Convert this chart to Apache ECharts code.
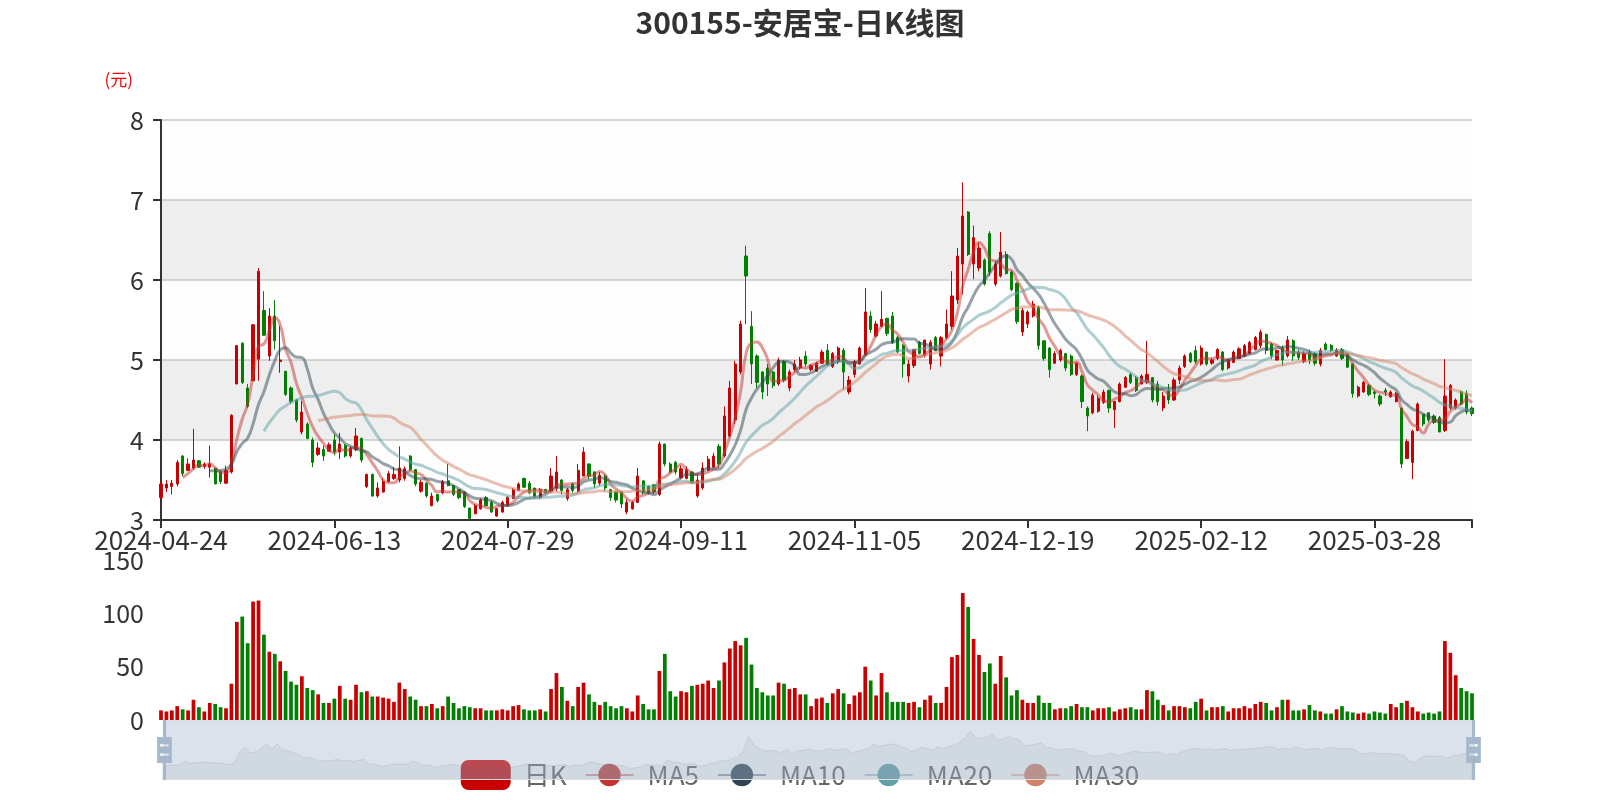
<!DOCTYPE html>
<html>
<head>
<meta charset="utf-8">
<script src="https://cdn.jsdelivr.net/npm/echarts@6/dist/echarts.min.js"></script>
<style>html,body{margin:0;padding:0;background:#fff;}#main{width:1600px;height:800px;}</style>
</head>
<body>
<div id="main"></div>
<script>
// ---------- DATA ----------
const chartTitle = '300155-安居宝-日K线图';
const startDate = '2024-04-24';
const tradingDayCount = 243;
const holidays = ['2024-05-01','2024-05-02','2024-05-03','2024-06-10','2024-09-16','2024-09-17',
  '2024-10-01','2024-10-02','2024-10-03','2024-10-04','2024-10-07','2025-01-01',
  '2025-01-28','2025-01-29','2025-01-30','2025-01-31','2025-02-03','2025-02-04','2025-04-04'];
const labelEvery = 32;

// [open, close, low, high]
const candles = [
[3.28,3.45,3.26,3.47],[3.40,3.45,3.35,3.50],[3.42,3.46,3.32,3.50],[3.45,3.72,3.42,3.75],[3.80,3.58,3.55,3.81],
[3.62,3.70,3.61,3.77],[3.65,3.75,3.63,4.14],[3.74,3.66,3.65,3.75],[3.67,3.70,3.64,3.72],[3.66,3.70,3.53,3.93],
[3.65,3.45,3.45,3.65],[3.60,3.48,3.45,3.62],[3.46,3.62,3.45,3.68],[3.60,4.31,3.58,4.32],[4.70,5.18,4.70,5.18],
[5.21,4.72,4.70,5.22],[4.65,4.42,4.40,4.70],[4.74,5.44,4.74,5.45],[5.01,6.11,4.74,6.15],[5.62,5.31,5.30,5.86],
[5.05,5.55,4.99,5.65],[5.55,5.24,5.13,5.75],[4.98,5.00,4.84,5.43],[4.86,4.57,4.55,4.86],[4.65,4.48,4.45,4.67],
[4.50,4.25,4.22,4.51],[4.10,4.35,4.07,4.49],[4.20,4.02,4.01,4.22],[4.00,3.72,3.66,4.03],[3.82,3.90,3.80,3.97],
[3.88,3.80,3.74,3.93],[3.86,3.94,3.86,3.97],[4.00,3.85,3.81,4.07],[3.85,3.95,3.76,4.09],[3.93,3.80,3.78,3.95],
[3.80,3.90,3.78,3.92],[3.88,4.05,3.86,4.15],[4.02,3.75,3.72,4.03],[3.42,3.57,3.40,3.58],[3.57,3.30,3.29,3.58],
[3.30,3.40,3.28,3.47],[3.35,3.48,3.34,3.52],[3.48,3.58,3.47,3.61],[3.52,3.57,3.50,3.66],[3.50,3.65,3.47,3.92],
[3.52,3.64,3.49,3.67],[3.80,3.63,3.61,3.81],[3.63,3.45,3.42,3.63],[3.36,3.47,3.34,3.50],[3.46,3.30,3.28,3.47],
[3.18,3.30,3.17,3.34],[3.32,3.24,3.22,3.32],[3.34,3.48,3.32,3.50],[3.49,3.43,3.42,3.70],[3.43,3.32,3.30,3.43],
[3.38,3.28,3.26,3.38],[3.35,3.17,3.15,3.36],[3.15,3.02,3.01,3.15],[3.08,3.18,3.07,3.20],[3.14,3.25,3.13,3.27],
[3.28,3.18,3.17,3.30],[3.22,3.10,3.09,3.24],[3.05,3.14,3.04,3.15],[3.10,3.22,3.09,3.24],[3.18,3.28,3.17,3.30],
[3.27,3.38,3.26,3.40],[3.37,3.45,3.36,3.47],[3.52,3.41,3.40,3.53],[3.46,3.34,3.32,3.49],[3.40,3.30,3.28,3.40],
[3.28,3.38,3.26,3.40],[3.38,3.34,3.33,3.39],[3.36,3.55,3.34,3.65],[3.40,3.60,3.36,3.80],[3.50,3.37,3.32,3.51],
[3.27,3.38,3.24,3.40],[3.45,3.37,3.34,3.47],[3.36,3.62,3.34,3.70],[3.55,3.85,3.55,3.91],[3.70,3.55,3.51,3.71],
[3.60,3.45,3.40,3.61],[3.46,3.56,3.43,3.60],[3.55,3.40,3.36,3.57],[3.38,3.28,3.24,3.39],[3.35,3.25,3.22,3.36],
[3.35,3.20,3.15,3.36],[3.10,3.22,3.07,3.26],[3.14,3.22,3.13,3.24],[3.22,3.55,3.22,3.65],[3.49,3.35,3.32,3.49],
[3.42,3.34,3.32,3.43],[3.44,3.35,3.32,3.45],[3.32,3.95,3.30,3.98],[3.95,3.70,3.67,3.95],[3.70,3.60,3.59,3.72],
[3.72,3.60,3.57,3.74],[3.53,3.64,3.51,3.68],[3.52,3.63,3.51,3.67],[3.60,3.47,3.45,3.61],[3.30,3.50,3.28,3.57],
[3.40,3.65,3.38,3.72],[3.62,3.76,3.61,3.80],[3.66,3.80,3.65,3.84],[3.92,3.70,3.65,3.95],[3.80,4.30,3.78,4.42],
[4.05,4.65,4.03,4.74],[4.25,4.95,4.20,4.99],[4.85,5.45,4.82,5.49],[6.30,6.05,5.45,6.43],[5.42,4.95,4.70,5.61],
[5.05,4.72,4.65,5.07],[4.85,4.60,4.51,4.86],[4.90,4.70,4.55,4.95],[4.85,4.68,4.65,4.86],[4.70,5.00,4.68,5.03],
[4.98,4.75,4.72,5.00],[4.65,4.85,4.61,4.88],[4.88,4.95,4.85,5.00],[4.90,5.00,4.88,5.04],[5.05,4.95,4.92,5.11],
[4.88,4.93,4.86,4.95],[4.86,4.96,4.85,4.98],[4.96,5.10,4.95,5.13],[5.12,4.95,4.93,5.20],[4.92,5.08,4.90,5.10],
[4.98,5.15,4.95,5.17],[5.12,4.85,4.63,5.15],[4.60,4.75,4.57,4.80],[4.82,4.98,4.78,5.00],[4.95,5.15,4.94,5.17],
[5.07,5.60,5.05,5.90],[5.55,5.38,5.34,5.61],[5.30,5.45,5.28,5.49],[5.42,5.51,5.41,5.86],[5.52,5.33,5.30,5.53],
[5.55,5.22,5.20,5.60],[5.28,5.10,5.09,5.30],[5.18,4.95,4.78,5.20],[4.80,4.95,4.72,5.00],[4.93,5.13,4.90,5.13],
[5.22,5.08,5.07,5.24],[5.06,5.25,5.03,5.25],[4.95,5.22,4.88,5.25],[5.28,5.12,5.11,5.30],[5.05,5.28,4.92,5.30],
[5.28,5.45,5.26,5.63],[5.42,5.80,5.38,6.11],[5.75,6.30,5.70,6.40],[6.20,6.80,5.82,7.22],[6.85,6.32,6.30,6.86],
[6.20,6.53,6.01,6.68],[6.15,6.40,6.11,6.47],[6.25,5.95,5.93,6.27],[6.58,6.10,6.05,6.61],[5.95,6.20,5.92,6.24],
[6.05,6.35,6.03,6.60],[6.32,6.08,6.07,6.36],[6.10,5.88,5.86,6.12],[5.96,5.48,5.45,5.97],[5.35,5.62,5.30,5.65],
[5.45,5.60,5.40,5.62],[5.55,5.70,5.53,5.74],[5.66,5.18,5.13,5.68],[5.24,5.02,4.99,5.25],[5.15,4.88,4.78,5.16],
[4.96,5.08,4.95,5.11],[5.00,5.12,4.98,5.14],[5.08,4.90,4.86,5.08],[5.05,4.82,4.80,5.07],[4.82,4.96,4.80,4.97],
[4.80,4.48,4.40,4.82],[4.40,4.30,4.11,4.42],[4.34,4.56,4.32,4.59],[4.36,4.52,4.34,4.55],[4.47,4.60,4.45,4.63],
[4.62,4.40,4.34,4.63],[4.38,4.48,4.15,4.49],[4.48,4.70,4.47,4.72],[4.66,4.78,4.65,4.80],[4.82,4.72,4.70,4.84],
[4.78,4.62,4.60,4.80],[4.70,4.80,4.70,4.82],[4.72,4.82,4.70,5.24],[4.78,4.50,4.47,4.78],[4.70,4.48,4.43,4.74],
[4.40,4.55,4.36,4.60],[4.62,4.50,4.45,4.70],[4.50,4.75,4.49,4.78],[4.75,4.90,4.70,4.93],[4.92,5.05,4.90,5.07],
[5.08,4.98,4.96,5.10],[5.12,4.98,4.95,5.18],[4.95,5.15,4.93,5.18],[5.10,4.95,4.93,5.10],[4.96,5.00,4.94,5.03],
[5.02,5.13,5.00,5.15],[5.10,4.88,4.86,5.11],[4.90,5.00,4.88,5.02],[4.97,5.10,4.96,5.12],[5.02,5.14,5.01,5.16],
[5.05,5.18,5.04,5.20],[5.08,5.22,5.07,5.24],[5.13,5.28,5.12,5.30],[5.18,5.35,5.15,5.38],[5.32,5.12,5.07,5.33],
[5.20,5.05,5.01,5.22],[5.00,5.12,4.99,5.13],[5.15,5.00,4.93,5.18],[5.05,5.25,5.03,5.30],[5.24,5.05,4.99,5.26],
[5.10,5.03,5.00,5.13],[4.98,5.08,4.96,5.11],[5.10,5.00,4.95,5.13],[5.08,4.96,4.93,5.10],[4.95,5.12,4.92,5.15],
[5.20,5.13,5.12,5.22],[5.18,5.12,5.10,5.20],[5.05,5.12,5.04,5.15],[5.13,5.02,5.00,5.15],[5.08,4.91,4.90,5.09],
[4.95,4.58,4.53,4.96],[4.55,4.66,4.53,4.68],[4.60,4.72,4.59,4.74],[4.68,4.57,4.55,4.70],[4.60,4.58,4.52,4.62],
[4.55,4.45,4.42,4.57],[4.62,4.60,4.55,4.65],[4.54,4.60,4.53,4.62],[4.48,4.58,4.47,4.60],[4.40,3.70,3.65,4.40],
[3.77,3.98,3.76,4.01],[3.72,4.11,3.51,4.13],[4.12,4.45,4.11,4.47],[4.32,4.20,4.17,4.32],[4.34,4.25,4.22,4.35],
[4.30,4.22,4.20,4.32],[4.28,4.10,4.10,4.30],[4.12,4.55,4.10,5.01],[4.40,4.68,4.38,4.70],[4.40,4.50,4.38,4.52],
[4.60,4.45,4.43,4.62],[4.58,4.35,4.32,4.62],[4.40,4.33,4.30,4.42]
];

const volumes = [
9,8,9,13,10,9,19,12,8,16,15,12,11,34,92,97,72,111,112,80,
64,62,55,46,36,33,41,30,28,24,16,16,20,32,20,19,33,26,27,22,
22,21,20,17,35,29,22,19,13,13,15,11,13,22,16,11,13,12,11,11,
9,9,9,10,9,13,14,10,9,9,10,8,29,44,31,18,13,31,35,24,
17,14,17,13,11,13,11,8,23,15,10,10,46,62,27,22,27,26,32,33,
34,37,30,37,54,67,74,70,77,52,30,26,23,23,35,34,29,30,24,24,
13,20,21,16,25,29,25,15,23,26,50,37,23,44,26,17,17,17,16,17,
12,19,23,16,16,31,59,61,119,106,76,61,45,53,34,60,40,23,28,19,
16,16,23,16,16,10,11,11,13,15,12,12,9,11,11,12,8,10,11,12,
10,10,28,27,19,14,9,13,13,12,11,17,20,9,12,12,13,8,11,11,
13,11,15,17,16,9,12,19,19,9,9,10,14,9,8,6,6,10,13,8,
7,6,7,6,8,7,6,15,12,16,18,12,8,6,7,6,8,74,63,42,
30,27,25
];

const maPeriods = [5, 10, 20, 30];
const maColors = ['#c23531', '#2f4554', '#61a0a8', '#d48265'];
const upColor = '#c80000';
const downColor = '#008000';

// ---------- BUILD ----------
function buildDates() {
  const out = [];
  const d = new Date(startDate + 'T00:00:00Z');
  while (out.length < tradingDayCount) {
    const s = d.toISOString().slice(0, 10);
    const wd = d.getUTCDay();
    if (wd !== 0 && wd !== 6 && holidays.indexOf(s) < 0) out.push(s);
    d.setUTCDate(d.getUTCDate() + 1);
  }
  return out;
}
const dates = buildDates();

function calcMA(n) {
  const res = [];
  for (let i = 0; i < candles.length; i++) {
    if (i < n - 1) { res.push('-'); continue; }
    let s = 0;
    for (let j = 0; j < n; j++) s += candles[i - j][1];
    res.push(+(s / n).toFixed(3));
  }
  return res;
}

const volData = volumes.map((v, i) => ({
  value: v,
  itemStyle: { color: candles[i][1] >= candles[i][0] ? upColor : downColor }
}));

const font = 'Noto Sans CJK SC';
const chart = echarts.init(document.getElementById('main'), null, { renderer: 'canvas' });

const maSeries = maPeriods.map((p, k) => ({
  name: 'MA' + p,
  type: 'line',
  data: calcMA(p),
  smooth: true,
  symbol: 'circle',
  showSymbol: false,
  xAxisIndex: 0,
  yAxisIndex: 0,
  itemStyle: { color: maColors[k] },
  lineStyle: { width: 3, opacity: 0.5, color: maColors[k] }
}));

const v4Handle = 'path://M8.2,13.6V3.9H6.3v9.7H3.1v14.9h3.3v9.7h1.8v-9.7h3.3V13.6H8.2z M9.7,24.4H4.8v-1.4h4.9V24.4z M9.7,19.1H4.8v-1.4h4.9V19.1z';

const option = {
  animation: false,
  backgroundColor: '#ffffff',
  textStyle: { fontFamily: font },
  title: {
    text: chartTitle,
    left: 'center',
    top: 3,
    textStyle: { fontSize: 30, fontWeight: 'bold', color: '#333', fontFamily: font }
  },
  legend: {
    data: ['日K', 'MA5', 'MA10', 'MA20', 'MA30'],
    left: 'center',
    top: 755,
    z: 1,
    itemWidth: 48,
    itemHeight: 28,
    itemGap: 18,
    textStyle: { fontSize: 26, color: '#666', fontFamily: font, padding: [0, 0, 0, 9] }
  },
  grid: [
    { left: 161, right: 128, top: 120, height: 400 },
    { left: 161, right: 128, top: 560, height: 160 }
  ],
  xAxis: [
    {
      type: 'category', data: dates, gridIndex: 0, boundaryGap: false,
      axisLine: { lineStyle: { color: '#333', width: 2 } },
      axisTick: {
        show: true, length: 8, lineStyle: { color: '#333', width: 2 },
        interval: (idx) => idx % labelEvery === 0 || idx === dates.length - 1
      },
      axisLabel: { fontSize: 26, color: '#333', margin: 7, interval: labelEvery - 1 },
      splitLine: { show: false }
    },
    {
      type: 'category', data: dates, gridIndex: 1, boundaryGap: false,
      axisLine: { show: false }, axisTick: { show: false }, axisLabel: { show: false },
      splitLine: { show: false }
    }
  ],
  yAxis: [
    {
      type: 'value', gridIndex: 0, min: 3, max: 8, interval: 1, scale: true,
      name: '(元)', nameLocation: 'end', nameGap: 32,
      nameTextStyle: { color: '#ff0000', fontSize: 17, align: 'right', padding: [0, 28, 0, 0] },
      axisLine: { show: true, lineStyle: { color: '#333', width: 2 } },
      axisTick: { show: true, length: 8, lineStyle: { color: '#333', width: 2 } },
      axisLabel: { fontSize: 25, color: '#333', margin: 17 },
      splitLine: { show: true, lineStyle: { color: '#c8c8c8', width: 1.5 } },
      splitArea: { show: true, areaStyle: { color: ['rgba(250,250,250,0.3)', 'rgba(200,200,200,0.3)'] } }
    },
    {
      type: 'value', gridIndex: 1, min: 0, max: 150, interval: 50,
      axisLine: { show: false }, axisTick: { show: false },
      axisLabel: { fontSize: 25, color: '#333', margin: 17 },
      splitLine: { show: false }
    }
  ],
  dataZoom: [
    { type: 'inside', xAxisIndex: [0, 1], start: 0, end: 100 },
    {
      type: 'slider', xAxisIndex: [0, 1], start: 0, end: 100,
      top: 720, height: 60, left: 161, right: 128, z: 10,
      backgroundColor: 'rgba(47,69,84,0)',
      borderColor: '#ddd',
      fillerColor: 'rgba(167,183,204,0.4)',
      dataBackground: {
        lineStyle: { color: '#2f4554', width: 0.5, opacity: 0.3 },
        areaStyle: { color: 'rgba(47,69,84,0.3)' }
      },
      selectedDataBackground: {
        lineStyle: { color: '#2f4554', width: 0.5, opacity: 0.3 },
        areaStyle: { color: 'rgba(47,69,84,0.3)' }
      },
      handleIcon: v4Handle,
      handleSize: '100%',
      handleStyle: { color: '#a7b7cc', borderColor: '#a7b7cc', borderWidth: 0 },
      moveHandleSize: 0,
      brushSelect: false,
      showDetail: false,
      emphasis: { handleStyle: { color: '#a7b7cc', borderWidth: 0 } }
    }
  ],
  series: [
    {
      name: '日K', type: 'candlestick', data: candles,
      xAxisIndex: 0, yAxisIndex: 0,
      itemStyle: { color: upColor, color0: downColor, borderColor: upColor, borderColor0: downColor }
    },
    ...maSeries,
    {
      name: 'Volume', type: 'bar', data: volData, xAxisIndex: 1, yAxisIndex: 1
    }
  ]
};
chart.setOption(option);
</script>
</body>
</html>
